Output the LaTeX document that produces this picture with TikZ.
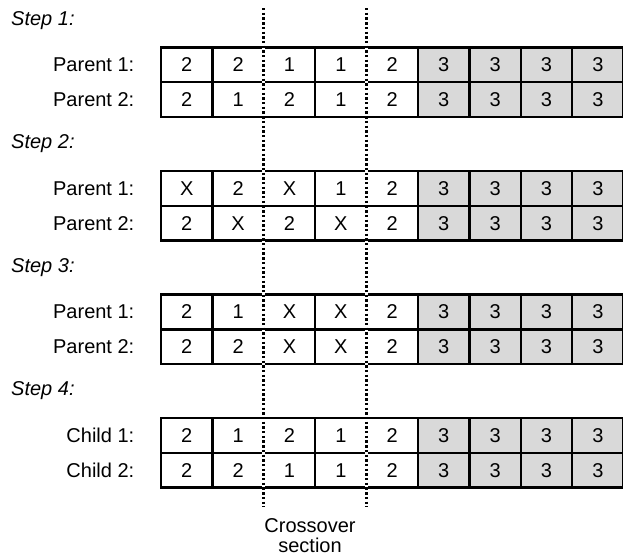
\documentclass[tikz,border=0pt]{standalone}
\usepackage{fontspec}
\setmainfont{Liberation Sans}
\begin{document}
\begin{tikzpicture}[x=1pt,y=-1pt,
  every node/.style={font=\fontsize{20}{24}\selectfont, inner sep=0pt},
  cell/.style={draw=black, line width=2.4pt, minimum width=51.4pt, minimum height=34.8pt},
  graycell/.style={cell, fill=black!15},
  steplabel/.style={anchor=west, font=\fontsize{20}{24}\selectfont\itshape},
  rowlabel/.style={anchor=east},
  cut/.style={line width=3pt, dash pattern=on 2.4pt off 2.3pt}]
\useasboundingbox (0,0) rectangle (623,558);
\fill[white] (0,0) rectangle (623,558);
% groups: index/top/step/label1/label2/row1/row2
\foreach \g/\top/\lab/\la/\lb/\ra/\rb in {
  1/47.3/{Step 1:}/{Parent 1:}/{Parent 2:}/{2,2,1,1,2}/{2,1,2,1,2},
  2/171/{Step 2:}/{Parent 1:}/{Parent 2:}/{X,2,X,1,2}/{2,X,2,X,2},
  3/294.5/{Step 3:}/{Parent 1:}/{Parent 2:}/{2,1,X,X,2}/{2,2,X,X,2},
  4/418/{Step 4:}/{Child 1:}/{Child 2:}/{2,1,2,1,2}/{2,2,1,1,2}}{
  \node[steplabel] (s\g) at (11,\top-27) {\lab};
  \node[rowlabel] (la\g) at (134.5,\top+17.4) {\la};
  \node[rowlabel] (lb\g) at (134.5,\top+52.2) {\lb};
  \foreach \v [count=\i] in \ra {
    \node[cell] (a\g-\i) at ({161+51.4*(\i-0.5)},\top+17.4) {\v};
  }
  \foreach \v [count=\i] in \rb {
    \node[cell] (b\g-\i) at ({161+51.4*(\i-0.5)},\top+52.2) {\v};
  }
  \foreach \i in {6,...,9} {
    \node[graycell] (a\g-\i) at ({161+51.4*(\i-0.5)},\top+17.4) {3};
    \node[graycell] (b\g-\i) at ({161+51.4*(\i-0.5)},\top+52.2) {3};
  }
}
\coordinate (t1) at (263.8,8);
\coordinate (u1) at (263.8,507);
\coordinate (t2) at (366.6,8);
\coordinate (u2) at (366.6,507);
\draw[white, line width=3pt] (t1) -- (u1) (t2) -- (u2);
\draw[cut] (t1) -- (u1);
\draw[cut] (t2) -- (u2);
\node[align=center, font=\fontsize{20}{20}\selectfont] (cs) at (310,536) {Crossover\\section};
\end{tikzpicture}
\end{document}
